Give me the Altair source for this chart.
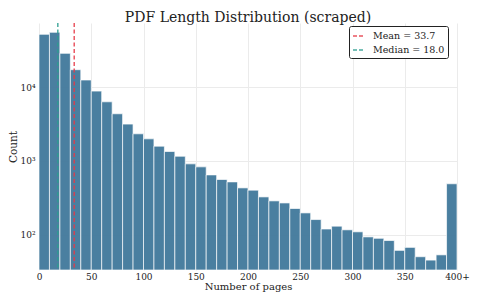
import altair as alt
import pandas as pd

bin_starts = list(range(0, 400, 10))
counts = [52600, 56000, 29000, 17400, 12600, 8900, 6370, 4380, 3170, 2340,
          2000, 1590, 1345, 1160, 914, 832, 647, 560, 520, 431,
          401, 325, 287, 269, 226, 197, 160, 119, 130, 116,
          109, 93, 89, 83, 61, 67, 50, 45, 53, 490]
stat_labels = ["Mean = 33.7", "Median = 18.0"]
stat_values = [33.7, 18.0]
stat_colors = ["#e63946", "#2a9d8f"]
x_ticks = [0, 50, 100, 150, 200, 250, 300, 350, 400]
y_ticks = [100, 1000, 10000]

FONT = "DejaVu Serif"
W, H = 418, 247

bars_df = pd.DataFrame({"start": bin_starts,
                        "end": [s + 10 for s in bin_starts],
                        "count": counts})
stats_df = pd.DataFrame({"label": stat_labels, "value": stat_values})

xscale = alt.Scale(domain=[0, 400], nice=False, zero=False)
yscale = alt.Scale(type="log", domain=[33, 75000], nice=False)

bars = alt.Chart(bars_df).mark_bar(
    color="#457b9d", opacity=0.97, stroke="white", strokeWidth=0.9, strokeOpacity=0.75
).encode(
    x=alt.X("start:Q", scale=xscale,
            axis=alt.Axis(values=x_ticks, title="Number of pages",
                          labelExpr="datum.value == 400 ? '400+' : datum.label",
                          labelFlush=False,
                          grid=True, gridColor="#ebebeb", domain=False, ticks=False,
                          labelPadding=2, titlePadding=0.5, titleFontSize=10)),
    x2="end:Q",
    y=alt.Y("count:Q", scale=yscale,
            axis=alt.Axis(values=y_ticks, title="Count",
                          labelExpr="datum.value == 100 ? '10²' : datum.value == 1000 ? '10³' : '10⁴'",
                          labelFlush=False,
                          grid=True, gridColor="#ebebeb", domain=False, ticks=False,
                          labelPadding=4, titlePadding=1)),
    y2=alt.value(H),
)

rules = alt.Chart(stats_df).mark_rule(strokeDash=[4, 2.5], strokeWidth=1.5, opacity=0.85).encode(
    x=alt.X("value:Q", scale=xscale),
    y=alt.value(0),
    y2=alt.value(H),
    color=alt.Color("label:N",
                    scale=alt.Scale(domain=stat_labels, range=stat_colors),
                    legend=alt.Legend(title=None, orient="none", legendX=310, legendY=3,
                                      symbolType="stroke", symbolDash=[4, 2],
                                      symbolStrokeWidth=1.5, symbolSize=144,
                                      labelFont=FONT, labelFontSize=9.5, labelColor="#222",
                                      strokeColor="#222", fillColor="white",
                                      cornerRadius=2, padding=3, rowPadding=2,
                                      labelOffset=7)),
)

chart = alt.layer(bars, rules).properties(
    width=W, height=H,
    title=alt.TitleParams("PDF Length Distribution (scraped)", font=FONT, fontSize=14,
                          fontWeight="normal", color="#222", offset=0, dy=2.5),
    autosize=alt.AutoSizeParams(type="none"),
    padding={"left": 31, "top": 15, "right": 13, "bottom": 25},
).configure_view(stroke=None).configure_axis(
    labelFont=FONT, titleFont=FONT, labelFontSize=9, titleFontSize=10.5,
    labelColor="#222", titleColor="#222", titleFontWeight="normal"
)

chart.save("out.html", embed_options={"renderer": "svg", "actions": False})
